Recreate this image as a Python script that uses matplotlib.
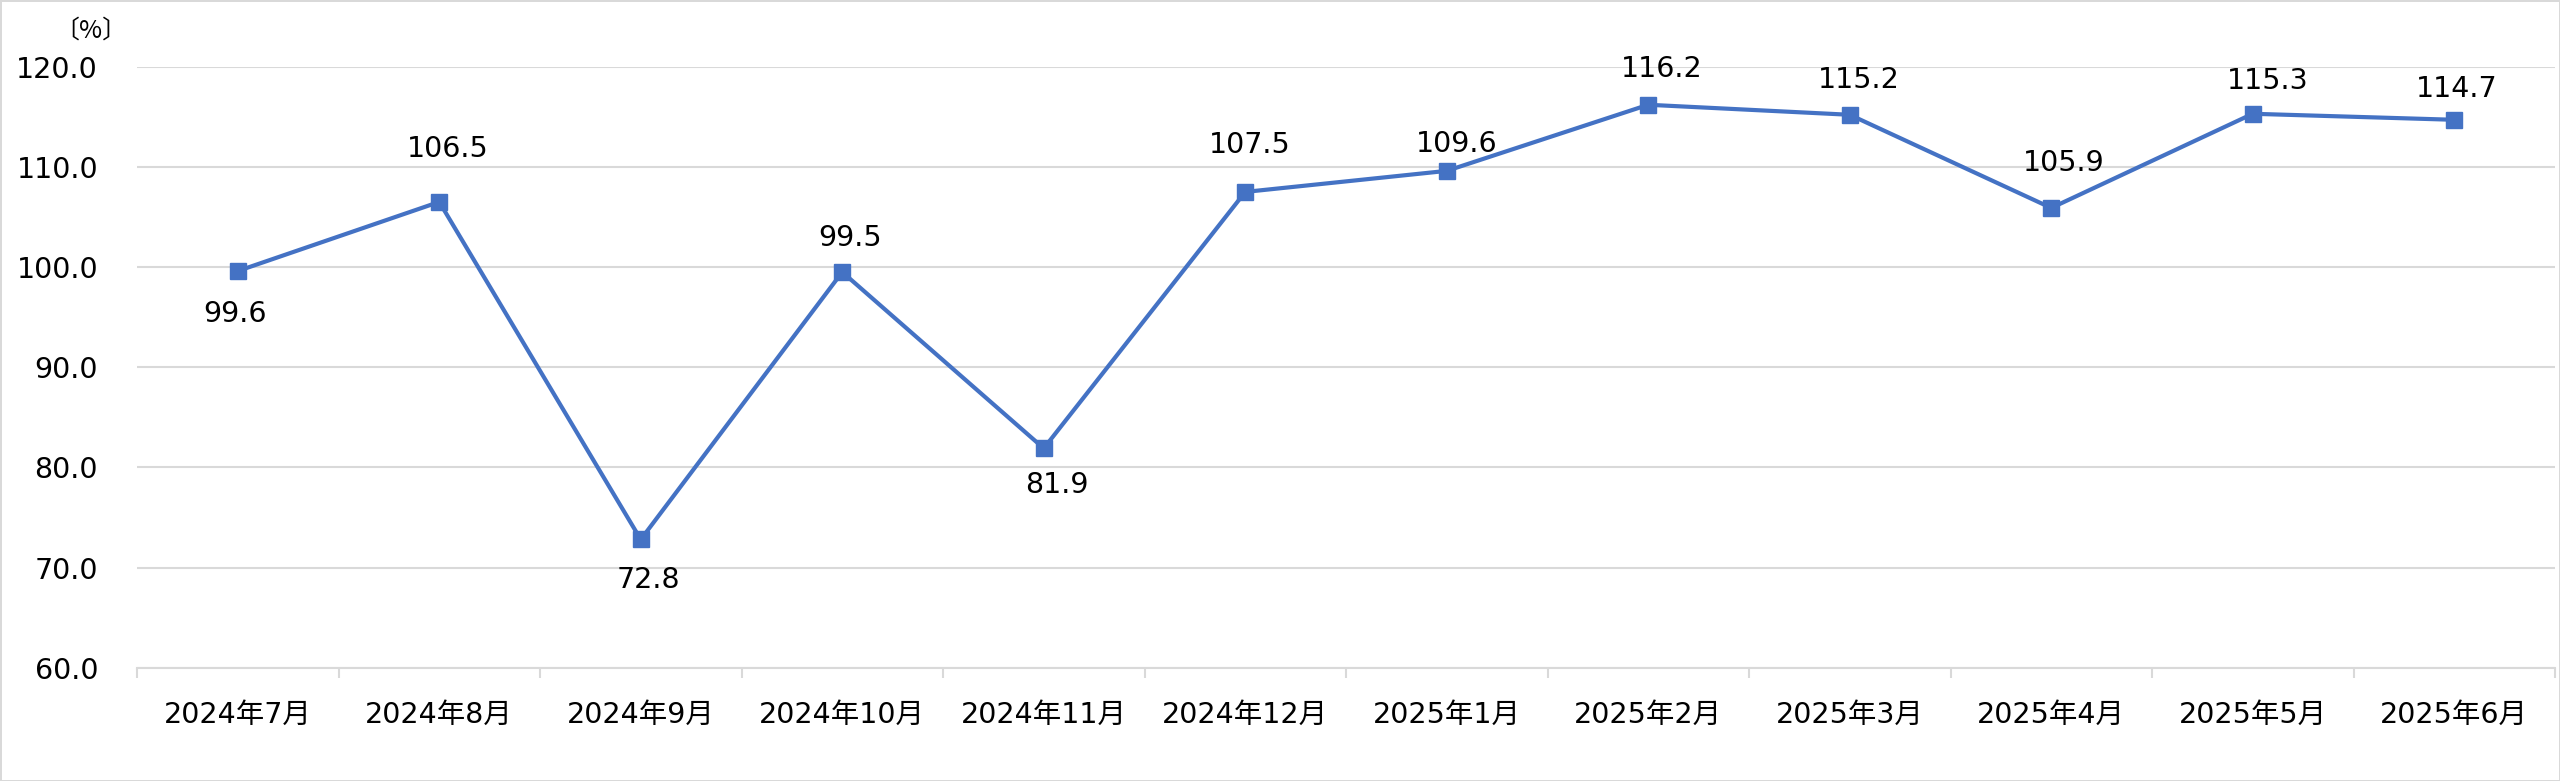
import matplotlib.pyplot as plt
from matplotlib.ticker import FixedLocator, FixedFormatter

plt.rcParams['font.family'] = ['DejaVu Sans', 'Noto Sans CJK JP']

months = ["2024年7月", "2024年8月", "2024年9月", "2024年10月", "2024年11月", "2024年12月",
          "2025年1月", "2025年2月", "2025年3月", "2025年4月", "2025年5月", "2025年6月"]
values = [99.6, 106.5, 72.8, 99.5, 81.9, 107.5, 109.6, 116.2, 115.2, 105.9, 115.3, 114.7]
y_ticks = [60, 70, 80, 90, 100, 110, 120]

# label offsets in pixels (dx, dy), as placed in the original
label_off = [(-3, -43), (9, 53), (8, -41), (8, 34), (13, -37), (5, 47),
             (10, 27), (14, 36), (9, 35), (13, 45), (15, 33), (2, 31)]

grid_c = "#d9d9d9"
line_c = "#4472C4"

fig = plt.figure(figsize=(25.6, 7.81), dpi=100)
fig.patch.set_edgecolor(grid_c)
fig.patch.set_linewidth(2)
ax = fig.add_axes([137 / 2560, 1 - 667.7 / 781, (2555 - 137) / 2560, (667.7 - 66.7) / 781])

x = list(range(len(months)))
ax.plot(x, values, color=line_c, lw=3, marker="s", markersize=11.5,
        markerfacecolor=line_c, markeredgecolor=line_c, zorder=3)

for xi, v, (dx, dy) in zip(x, values, label_off):
    ax.annotate(f"{v:.1f}", (xi, v), xytext=(dx * 0.72, dy * 0.72),
                textcoords="offset points", ha="center", va="center",
                fontsize=20.5, color="black")

ax.set_xlim(-0.5, len(months) - 0.5)
ax.set_ylim(60, 120)
ax.set_yticks(y_ticks)
ax.set_yticklabels([f"{t:.1f}" for t in y_ticks], fontsize=20.5)
ax.yaxis.grid(True, color=grid_c, lw=1.5)
ax.set_axisbelow(True)

ax.xaxis.set_major_locator(FixedLocator(x))
ax.xaxis.set_major_formatter(FixedFormatter(months))
ax.xaxis.set_minor_locator(FixedLocator([i - 0.5 for i in range(len(months) + 1)]))
ax.tick_params(axis="x", which="major", length=0, pad=24, labelsize=20.5)
ax.tick_params(axis="x", which="minor", length=7.2, width=1.5, color=grid_c)
ax.tick_params(axis="y", length=0, pad=28)

for s in ["top", "right", "left"]:
    ax.spines[s].set_visible(False)
ax.spines["bottom"].set_color(grid_c)
ax.spines["bottom"].set_linewidth(1.5)

fig.text(91 / 2560, 1 - 31 / 781, "〔%〕", ha="center", va="center", fontsize=18,
         family=["Noto Sans CJK JP", "DejaVu Sans"])

fig.savefig("out.png", dpi=100)
